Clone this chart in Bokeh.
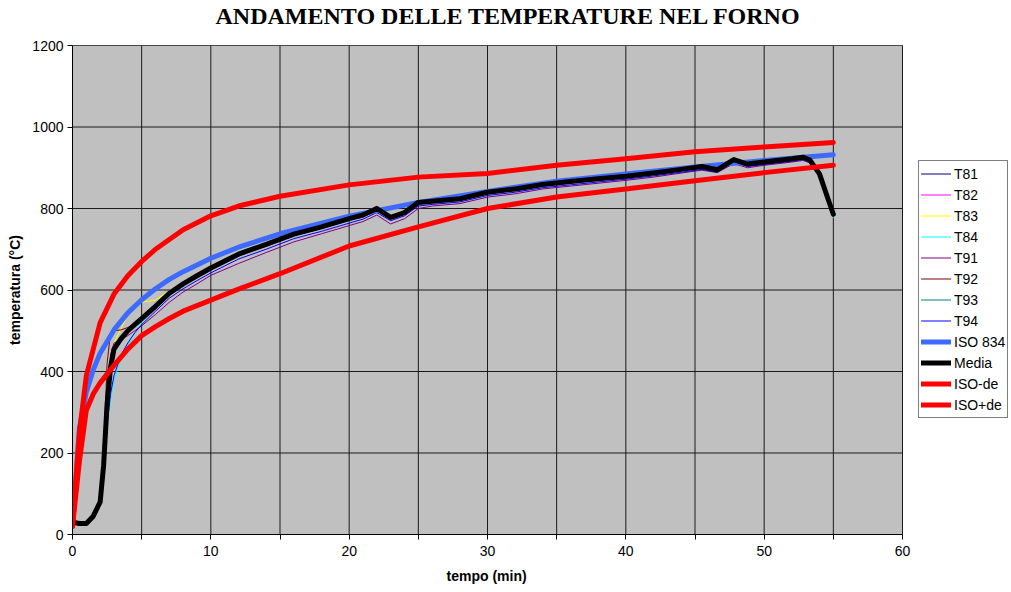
from bokeh.plotting import figure
from bokeh.models import Range1d, FixedTicker, Legend, LegendItem, Title
from bokeh.embed import file_html
from bokeh.resources import INLINE

# ---- data ----
time_meas = [0, 0.5, 1, 1.5, 2, 2.25, 2.5, 2.75, 3, 3.5, 4, 4.5, 5, 6, 7, 8, 9, 10, 12, 14,
             16, 18, 20, 21, 22, 23, 24, 25, 26, 28, 30, 32, 34, 36, 38, 40, 42, 44, 45.5, 46.6,
             47.8, 48.8, 50, 52, 52.8, 53.3, 54, 54.5, 55]

T81 = [30, 27, 27, 44, 78, 160, 300, 400, 450, 476, 496, 512, 527, 557, 588, 611, 631, 650, 684, 708,
       733, 751, 771, 781, 797, 775, 787, 811, 815, 821, 837, 845, 856, 863, 870, 876, 884, 893, 900, 892,
       917, 906, 911, 919, 923, 916, 883, 832, 783]
T82 = [30, 27, 27, 46, 82, 175, 325, 415, 460, 485, 505, 520, 535, 565, 597, 620, 640, 658, 692, 716,
       741, 759, 779, 788, 806, 782, 794, 819, 821, 827, 843, 851, 862, 869, 876, 882, 890, 899, 906, 898,
       923, 912, 917, 925, 929, 922, 888, 838, 789]
T83 = [30, 27, 27, 45, 80, 168, 330, 430, 470, 505, 540, 565, 570, 575, 598, 620, 640, 658, 692, 716,
       741, 760, 779, 789, 805, 783, 795, 819, 821, 827, 843, 851, 862, 869, 876, 882, 890, 899, 906, 898,
       924, 912, 917, 925, 929, 922, 888, 838, 789]
T84 = [30, 27, 27, 44, 76, 150, 260, 330, 380, 430, 465, 495, 520, 555, 588, 612, 632, 651, 685, 709,
       734, 752, 772, 782, 798, 776, 788, 812, 816, 822, 838, 846, 857, 864, 871, 877, 885, 894, 901, 893,
       918, 907, 912, 920, 924, 917, 884, 830, 778]
T91 = [30, 27, 27, 44, 78, 165, 340, 440, 470, 478, 488, 500, 512, 540, 570, 595, 615, 636, 665, 692,
       718, 738, 758, 768, 784, 762, 775, 800, 806, 812, 828, 836, 848, 855, 862, 869, 877, 887, 894, 888,
       910, 900, 906, 914, 918, 912, 882, 834, 785]
T92 = [30, 27, 27, 45, 85, 200, 420, 495, 500, 502, 508, 518, 530, 560, 592, 615, 635, 654, 688, 712,
       737, 755, 775, 784, 800, 778, 790, 815, 818, 824, 840, 848, 859, 866, 873, 879, 887, 896, 903, 895,
       920, 909, 914, 922, 926, 919, 885, 835, 786]
T93 = [30, 27, 27, 45, 80, 165, 310, 405, 452, 478, 498, 513, 528, 558, 590, 613, 633, 652, 686, 710,
       735, 753, 773, 782, 798, 777, 789, 813, 816, 822, 838, 846, 857, 864, 871, 877, 885, 894, 901, 893,
       918, 907, 912, 920, 924, 917, 884, 834, 785]
T94 = [30, 27, 27, 44, 76, 150, 270, 345, 390, 440, 470, 495, 515, 548, 580, 603, 623, 642, 676, 700,
       726, 744, 764, 774, 790, 770, 782, 806, 810, 816, 832, 840, 851, 858, 865, 872, 880, 889, 896, 889,
       914, 903, 908, 916, 920, 914, 881, 831, 780]
media = [30, 27, 27, 45, 80, 170, 320, 410, 455, 480, 500, 515, 530, 560, 592, 615, 635, 654, 688, 712,
         737, 755, 775, 784, 800, 778, 790, 815, 818, 824, 840, 848, 859, 866, 873, 879, 887, 896, 903, 895,
         920, 909, 914, 922, 926, 919, 885, 835, 786]

time_iso = [0, 0.5, 1, 1.5, 2, 3, 4, 5, 6, 7, 8, 10, 12, 15, 20, 25, 30, 35, 40, 45, 50, 55]
iso834 = [20, 261, 349, 404, 445, 502, 544, 576, 603, 626, 645, 678, 705, 738, 781, 815, 842, 867, 885,
          902, 918, 932]
iso_minus = [20, 180, 305, 345, 372, 415, 455, 488, 510, 530, 548, 575, 602, 640, 708, 755, 800, 828,
             848, 868, 888, 906]
iso_plus = [20, 250, 390, 455, 520, 590, 635, 670, 700, 724, 748, 782, 806, 830, 858, 877, 886, 906,
            922, 939, 951, 962]

x_ticks = [0, 10, 20, 30, 40, 50, 60]
x_minor = [5, 15, 25, 35, 45, 55]
x_grid = [0, 5, 10, 15, 20, 25, 30, 35, 40, 45, 50, 55, 60]
y_ticks = [0, 200, 400, 600, 800, 1000, 1200]

title_text = "ANDAMENTO DELLE TEMPERATURE NEL FORNO"
x_label = "tempo (min)"
y_label = "temperatura (°C)"

# ---- layout: the grey plot area spans x 0..60; the frame is extended to the right
# so that the legend (drawn inside the frame) sits right of the grey area ----
W, H = 1008, 588
LEFT, TOP, BOTTOM = 72, 44, 54
PLOT_W = 830                      # pixel width of the 0..60 min area
x_min, x_max = x_ticks[0], x_ticks[-1]
y_min, y_max = y_ticks[0], y_ticks[-1]
frame_w = W - LEFT
x_end = x_min + (x_max - x_min) * frame_w / PLOT_W

p = figure(width=W, height=H, x_range=Range1d(x_min, x_end), y_range=Range1d(y_min, y_max),
           output_backend="svg", toolbar_location=None,
           min_border_left=LEFT, min_border_right=0, min_border_top=TOP, min_border_bottom=BOTTOM,
           background_fill_color="white", border_fill_color="white",
           outline_line_color=None)
p.xgrid.visible = False
p.ygrid.visible = False

# grey plot area with black border
p.quad(left=[x_min], right=[x_max], bottom=[y_min], top=[y_max],
       fill_color="#C0C0C0", line_color="black", line_width=1)
# grid lines limited to the plot area
p.segment(x0=x_grid, x1=x_grid, y0=[y_min] * len(x_grid), y1=[y_max] * len(x_grid),
          line_color="#1a1a1a", line_width=1)
p.segment(x0=[x_min] * len(y_ticks), x1=[x_max] * len(y_ticks), y0=y_ticks, y1=y_ticks,
          line_color="#1a1a1a", line_width=1)

FONT = "Liberation Sans"

p.xaxis.ticker = FixedTicker(ticks=x_ticks, minor_ticks=x_minor)
p.yaxis.ticker = FixedTicker(ticks=y_ticks)
p.xaxis.bounds = (x_min, x_max)

for ax in (p.xaxis, p.yaxis):
    ax.axis_line_color = "black"
    ax.major_tick_line_color = "black"
    ax.minor_tick_line_color = "black"
    ax.major_tick_in = 0
    ax.major_tick_out = 5
    ax.minor_tick_in = 0
    ax.minor_tick_out = 5
    ax.major_label_text_font = FONT
    ax.major_label_text_font_size = "14px"
    ax.major_label_text_color = "black"
    ax.axis_label_text_font = FONT
    ax.axis_label_text_font_size = "14px"
    ax.axis_label_text_font_style = "bold"
    ax.axis_label_text_color = "black"

p.yaxis.minor_tick_line_color = None
p.yaxis.axis_label = y_label
p.xaxis.major_label_standoff = 6
p.yaxis.major_label_standoff = 4
p.yaxis.axis_label_standoff = 6

# x-axis title centred under the grey area (not under the extended frame);
# a small spacer sits between the tick labels and the title
p.add_layout(Title(text=" ", text_font_size="7px", standoff=0), "below")
p.add_layout(Title(text=x_label, text_font=FONT, text_font_style="bold", text_font_size="14px",
                   text_color="black", align="left", offset=374, standoff=0,
                   vertical_align="top"), "below")

series = [
    ("T81", time_meas, T81, "#000080", 1),
    ("T82", time_meas, T82, "#FF00FF", 1),
    ("T83", time_meas, T83, "#FFFF00", 1),
    ("T84", time_meas, T84, "#00FFFF", 1),
    ("T91", time_meas, T91, "#800080", 1),
    ("T92", time_meas, T92, "#800000", 1),
    ("T93", time_meas, T93, "#008080", 1),
    ("T94", time_meas, T94, "#0000FF", 1),
    ("ISO 834", time_iso, iso834, "#3D6BFF", 5),
    ("Media", time_meas, media, "black", 5),
    ("ISO-de", time_iso, iso_minus, "#FF0000", 5),
    ("ISO+de", time_iso, iso_plus, "#FF0000", 5),
]

items = []
for name, xs, ys, col, w in series:
    r = p.line(xs, ys, line_color=col, line_width=w, line_join="round", line_cap="round")
    items.append(LegendItem(label=name, renderers=[r]))

legend = Legend(items=items, location=(PLOT_W + 16, 116), orientation="vertical",
                border_line_color="black", border_line_width=1,
                background_fill_color="white", background_fill_alpha=1,
                label_text_font=FONT, label_text_font_size="14px", label_text_color="black",
                padding=2, spacing=0, margin=0, glyph_width=30, glyph_height=21,
                label_height=21, label_standoff=3)
p.add_layout(legend)

# spacer (innermost) then the real title above it
p.add_layout(Title(text=" ", text_font_size="13px", standoff=0), "above")
p.add_layout(Title(text=title_text, text_font="Liberation Serif", text_font_style="bold",
                   text_font_size="24px", text_color="black", align="left", offset=143,
                   standoff=0, vertical_align="bottom"), "above")

open("out.html", "w").write(file_html(p, INLINE))
